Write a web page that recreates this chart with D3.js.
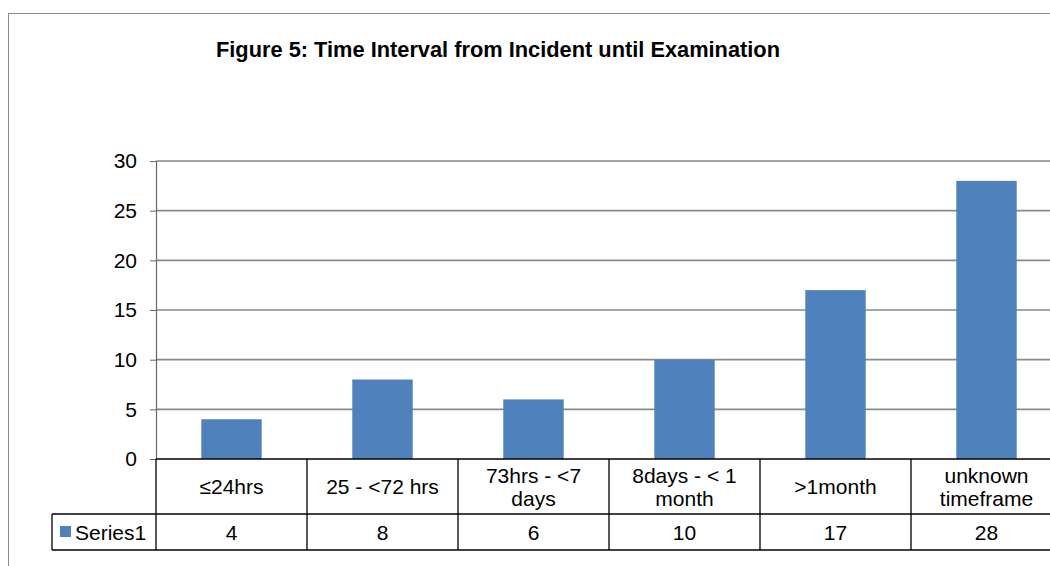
<!DOCTYPE html>
<html>
<head>
<meta charset="utf-8">
<script src="https://cdn.jsdelivr.net/npm/d3@7"></script>
<style>
  body { margin: 0; background: #fff; }
  svg { display: block; font-family: "Liberation Sans", Arial, sans-serif; }
</style>
</head>
<body>
<svg id="chart" width="1050" height="566"></svg>
<script>
let categories = [["\u226424hrs"], ["25 - <72 hrs"], ["73hrs - <7", "days"], ["8days - < 1", "month"], [">1month"], ["unknown", "timeframe"]];
let values = [4, 8, 6, 10, 17, 28];
let seriesName = "Series1";
let yTicks = [0, 5, 10, 15, 20, 25, 30];
let title = "Figure 5: Time Interval from Incident until Examination";

let plotLeft = 156, plotRight = 1062, plotTop = 161, plotBottom = 459;
let row1 = 514, row2 = 550, legendLeft = 52;
let blue = "#4F81BD";
let fs = 21;

let svg = d3.select("#chart");

// outer frame
svg.append("rect")
    .attr("x", 8.5).attr("y", 13.5)
    .attr("width", 1100).attr("height", 600)
    .attr("fill", "none").attr("stroke", "#8c8c8c");

svg.append("text")
    .attr("x", 498).attr("y", 57)
    .attr("text-anchor", "middle")
    .attr("font-weight", "bold")
    .attr("font-size", 21.8)
    .text(title);

let x = d3.scaleBand()
    .domain(d3.range(categories.length))
    .range([plotLeft, plotRight])
    .paddingInner(0).paddingOuter(0);

let y = d3.scaleLinear().domain([0, 30]).range([plotBottom, plotTop]);

// gridlines
svg.append("g").selectAll("line")
    .data(yTicks.filter(d => d > 0))
    .join("line")
    .attr("x1", plotLeft).attr("x2", plotRight)
    .attr("y1", d => y(d)).attr("y2", d => y(d))
    .attr("stroke", "#8a8a8a").attr("stroke-width", 1.6);

// y axis
let yAxis = svg.append("g")
    .attr("transform", `translate(${plotLeft},0)`)
    .call(d3.axisLeft(y).tickValues(yTicks).tickSize(6).tickPadding(13));
yAxis.select(".domain").attr("stroke", "#666").attr("stroke-width", 1.2);
yAxis.selectAll(".tick line").attr("stroke", "#666");
yAxis.selectAll(".tick text")
    .attr("font-size", fs).attr("fill", "#000")
    .attr("font-family", "Liberation Sans, Arial, sans-serif");

// bars
let barW = x.bandwidth() * 0.4;
svg.append("g").selectAll("rect")
    .data(values)
    .join("rect")
    .attr("x", (d, i) => x(i) + (x.bandwidth() - barW) / 2)
    .attr("y", d => y(d))
    .attr("width", barW)
    .attr("height", d => plotBottom - y(d))
    .attr("fill", blue);

// data table
let table = svg.append("g").attr("stroke", "#000").attr("stroke-width", 1.3);
table.append("line").attr("x1", plotLeft).attr("x2", plotRight).attr("y1", plotBottom).attr("y2", plotBottom);
table.append("line").attr("x1", legendLeft).attr("x2", plotRight).attr("y1", row1).attr("y2", row1);
table.append("line").attr("x1", legendLeft).attr("x2", plotRight).attr("y1", row2).attr("y2", row2);
table.append("line").attr("x1", legendLeft).attr("x2", legendLeft).attr("y1", row1).attr("y2", row2);
table.selectAll(".v")
    .data(d3.range(categories.length + 1))
    .join("line")
    .attr("class", "v")
    .attr("x1", i => i < categories.length ? x(i) : plotRight)
    .attr("x2", i => i < categories.length ? x(i) : plotRight)
    .attr("y1", plotBottom).attr("y2", row2);

// category labels
svg.append("g").selectAll("text")
    .data(categories)
    .join("text")
    .attr("text-anchor", "middle")
    .attr("font-size", fs)
    .attr("x", (d, i) => x(i) + x.bandwidth() / 2)
    .attr("y", d => d.length > 1 ? 483 : 494)
    .selectAll("tspan")
    .data(d => d)
    .join("tspan")
    .attr("x", function() { return d3.select(this.parentNode).attr("x"); })
    .attr("dy", (d, i) => i ? 23 : 0)
    .text(d => d);

// values
svg.append("g").selectAll("text")
    .data(values)
    .join("text")
    .attr("text-anchor", "middle")
    .attr("font-size", fs)
    .attr("x", (d, i) => x(i) + x.bandwidth() / 2)
    .attr("y", 540)
    .text(d => d);

// legend key
svg.append("rect")
    .attr("x", 60).attr("y", 526)
    .attr("width", 11).attr("height", 11)
    .attr("fill", blue);
svg.append("text")
    .attr("x", 75).attr("y", 540)
    .attr("font-size", fs)
    .text(seriesName);
</script>
</body>
</html>
